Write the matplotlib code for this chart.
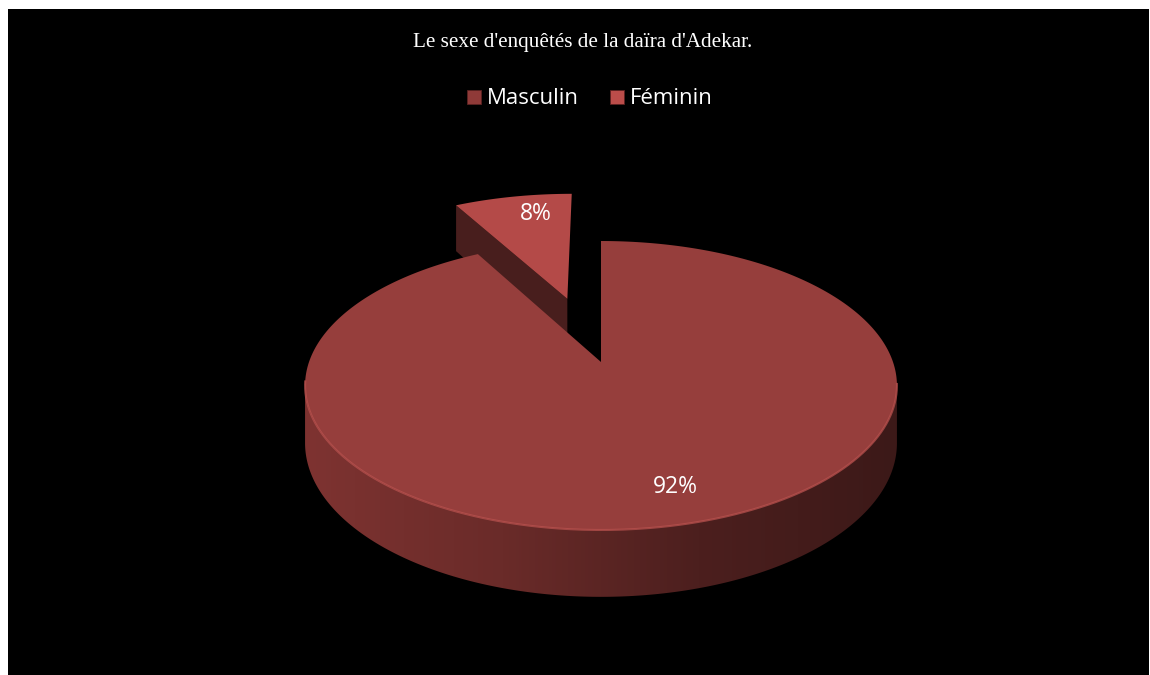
#!/usr/bin/env python3
# coding: utf-8

import numpy as np
import matplotlib
matplotlib.use('Agg')
import matplotlib.pyplot as plt
from matplotlib.patches import Polygon, Rectangle
from matplotlib.lines import Line2D
from matplotlib.colors import LinearSegmentedColormap

# survey data
title = "Le sexe d'enquêtés de la daïra d'Adekar."
labels = ['Masculin', 'Féminin']
values = [92, 8]
explode = [0.0, 0.5]

top_colors = ['#963e3c', '#b44a48']
cut_color = '#481e1d'
legend_colors = ['#8f3a38', '#bb4d4a']

# pie geometry (pixel space, y pointing down)
CX, RX = 601, 292
Q, P, K = 362, 81.8, -0.1626   # perspective of the disc plane
H = 56                          # thickness of the pie


def proj(X, Y, z=0.0):
    """Disc coords (X right, Y away from viewer) -> screen pixels."""
    X = np.asarray(X, float)
    Y = np.asarray(Y, float)
    v = -Y
    d = 1 + K * v
    x = CX + RX * X / d
    y = (P * v + Q) / d + z * H / d
    return np.column_stack([x, y])


def arc(t0, t1, off, n=200):
    t = np.radians(np.linspace(t0, t1, n))
    return off[0] + np.cos(t), off[1] + np.sin(t)


fig = plt.figure(figsize=(11.5, 6.75), dpi=100, facecolor='white')
ax = fig.add_axes([0, 0, 1, 1])
ax.set_xlim(0, 1150)
ax.set_ylim(675, 0)
ax.axis('off')
ax.add_patch(Rectangle((8, 9), 1141, 680, facecolor='black', edgecolor='none', zorder=0))

# slice angles: the small slice starts at 12 o'clock and runs counter-clockwise,
# the big one takes the rest of the turn
total = float(sum(values))
spans = [360.0 * v / total for v in values]
fem_start = 90.0
fem_end = fem_start + spans[1]
main_start = fem_end
main_end = 90.0 + 360.0

# --- Féminin (exploded) slice -------------------------------------------
mid = np.radians((fem_start + fem_end) / 2)
off_f = (explode[1] * np.cos(mid), explode[1] * np.sin(mid))
ax_, ay_ = arc(fem_start, fem_end, off_f, 60)

# left cut face (visible through the gap)
te = np.radians(fem_end)
edge_x = [off_f[0], off_f[0] + np.cos(te)]
edge_y = [off_f[1], off_f[1] + np.sin(te)]
top_e = proj(edge_x, edge_y, 0)
bot_e = proj(edge_x, edge_y, 1)
ax.add_patch(Polygon(np.vstack([top_e, bot_e[::-1]]), closed=True,
                     facecolor=cut_color, edgecolor='none', zorder=2))
# top face
fem_top = proj(np.concatenate([[off_f[0]], ax_]), np.concatenate([[off_f[1]], ay_]))
ax.add_patch(Polygon(fem_top, closed=True, facecolor=top_colors[1],
                     edgecolor='none', zorder=3))

# --- Masculin slice -------------------------------------------------------
# visible part of the outer wall, between the two silhouette points
s0 = 180 + np.degrees(np.arcsin(-K))
s1 = 360 - np.degrees(np.arcsin(-K))
wx, wy = arc(s0, s1, (0, 0), 300)
wall = np.vstack([proj(wx, wy, 0), proj(wx, wy, 1)[::-1]])
wall_patch = Polygon(wall, closed=True, facecolor='none', edgecolor='none', zorder=4)
ax.add_patch(wall_patch)

side_cmap = LinearSegmentedColormap.from_list(
    'side', ['#7e3331', '#6a2b29', '#4c1f1e', '#3c1918'])
grad = np.linspace(0, 1, 256).reshape(1, -1)
xmin, xmax = wall[:, 0].min(), wall[:, 0].max()
ymin, ymax = wall[:, 1].min(), wall[:, 1].max()
im = ax.imshow(grad, cmap=side_cmap, aspect='auto',
               extent=(xmin, xmax, ymax, ymin), zorder=4, interpolation='bilinear')
im.set_clip_path(wall_patch)

mx, my = arc(main_start, main_end, (0, 0), 500)
main_top = proj(np.concatenate([[0], mx]), np.concatenate([[0], my]))
ax.add_patch(Polygon(main_top, closed=True, facecolor=top_colors[0],
                     edgecolor='none', zorder=5))

# soft highlight along the front rim
rx_, ry_ = arc(s0 - 2, s1 + 1, (0, 0), 300)
rim = proj(rx_, ry_, 0)
ax.plot(rim[:, 0], rim[:, 1], color='#b8514e', lw=1.5, alpha=0.75,
        zorder=6, solid_capstyle='butt')

# --- labels ---------------------------------------------------------------
lab_font = ['Open Sans', 'DejaVu Sans']
pct = [f'{round(100 * v / total):d}%' for v in values]

# Féminin label near the outer part of its top face
ang_f = mid - np.radians(4)
lf = proj([off_f[0] + 0.80 * np.cos(ang_f)], [off_f[1] + 0.80 * np.sin(ang_f)])[0]
ax.text(lf[0], lf[1], pct[1], color='white', fontsize=16.5, family=lab_font,
        ha='center', va='center', zorder=8)
# Masculin label in the lower right part of its top face
ang_m = np.radians(-74)
lm = proj([0.81 * np.cos(ang_m)], [0.81 * np.sin(ang_m)])[0]
ax.text(lm[0], lm[1], pct[0], color='white', fontsize=16.5, family=lab_font,
        ha='center', va='center', zorder=8)

ax.text(583, 43, title, color='white', fontsize=15.2,
        family=['Liberation Serif', 'DejaVu Serif'], ha='center', va='center')

handles = [Line2D([], [], marker='s', linestyle='none', markersize=10,
                  markerfacecolor=c, markeredgecolor='#5c2221', markeredgewidth=0.6)
           for c in legend_colors]
leg = ax.legend(handles, labels, loc='center', bbox_to_anchor=(588 / 1150, 1 - 99 / 675),
                ncol=2, frameon=False, handletextpad=0.1, columnspacing=1.2,
                handlelength=1.0, prop={'family': lab_font, 'size': 16})
for t in leg.get_texts():
    t.set_color('white')

fig.savefig('out.png', dpi=100, facecolor='white')
